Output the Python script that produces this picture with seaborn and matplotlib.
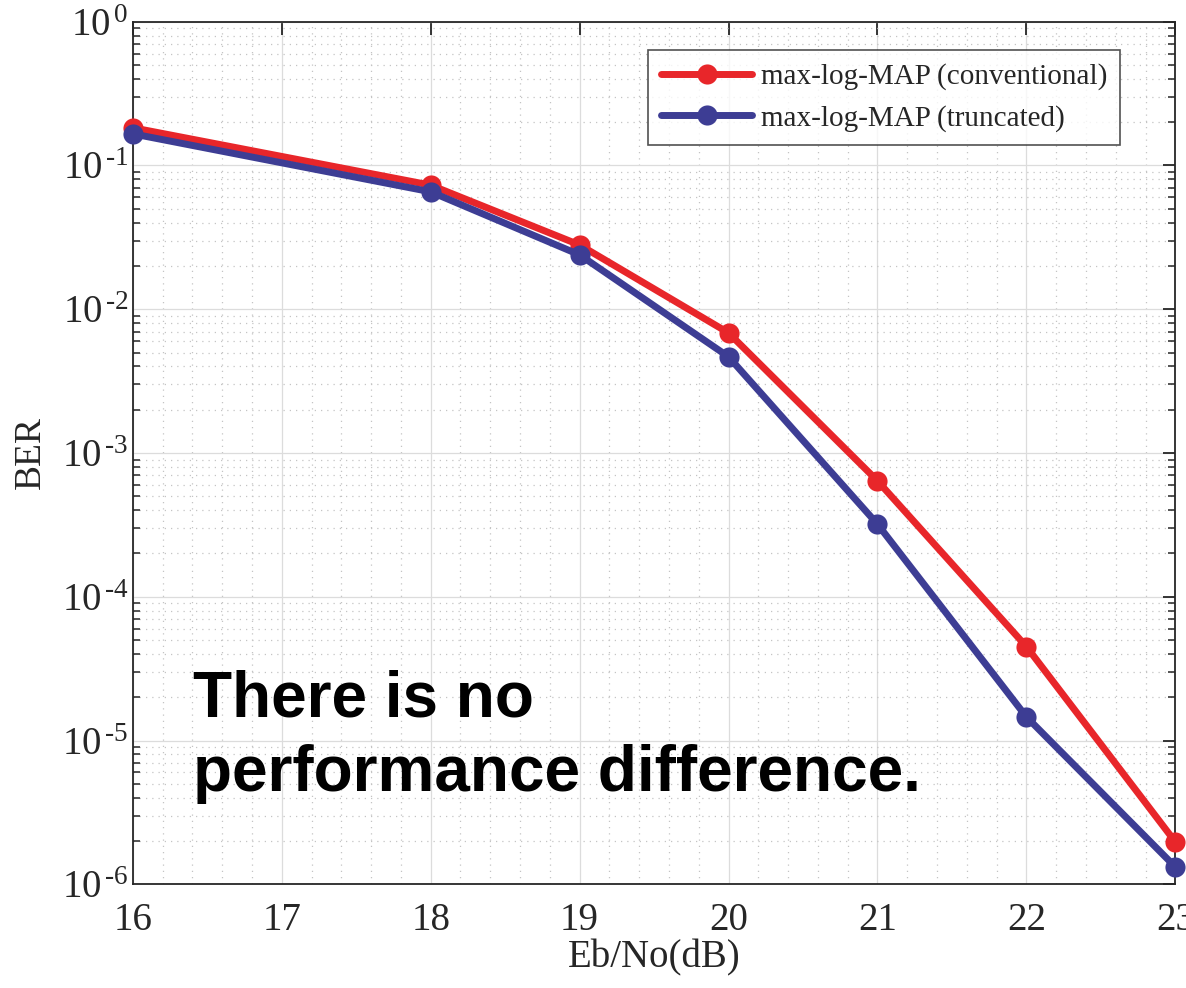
import numpy as np
import pandas as pd
import seaborn as sns
import matplotlib
matplotlib.use("Agg")
import matplotlib.pyplot as plt
from matplotlib.ticker import LogLocator, MultipleLocator, FixedLocator, NullFormatter
from matplotlib.lines import Line2D

ebno = [16, 18, 19, 20, 21, 22, 23]
ber_conventional = [0.183, 0.073, 0.028, 0.00685, 6.4e-4, 4.5e-5, 1.97e-6]
ber_truncated = [0.166, 0.0656, 0.0239, 0.00467, 3.2e-4, 1.46e-5, 1.32e-6]
series_names = ["max-log-MAP (conventional)", "max-log-MAP (truncated)"]
series_colors = ["#E8262A", "#3D3D94"]
x_ticks = [16, 17, 18, 19, 20, 21, 22, 23]
y_exps = [0, -1, -2, -3, -4, -5, -6]
annotation = "There is no\nperformance difference."

df = pd.DataFrame({
    "Eb/No": ebno * 2,
    "BER": ber_conventional + ber_truncated,
    "scheme": [series_names[0]] * len(ebno) + [series_names[1]] * len(ebno),
})

sns.set_theme(style="white")
plt.rcParams["font.family"] = ["Liberation Serif", "DejaVu Serif"]
plt.rcParams["mathtext.fontset"] = "custom"
plt.rcParams["mathtext.rm"] = "Liberation Serif"
plt.rcParams["mathtext.it"] = "Liberation Serif"

fig = plt.figure(figsize=(11.86, 9.88), dpi=100)
ax = fig.add_axes([0.112, 0.105, 0.879, 0.873])

palette = dict(zip(series_names, series_colors))
sns.lineplot(data=df, x="Eb/No", y="BER", hue="scheme", palette=palette,
             marker="o", markersize=14.5, linewidth=5, markeredgewidth=0,
             ax=ax, legend=False, zorder=3, clip_on=False)

ax.set_yscale("log")
ax.set_xlim(16, 23)
ax.set_ylim(1e-6, 1)

ax.xaxis.set_major_locator(FixedLocator(x_ticks))
ax.xaxis.set_minor_locator(MultipleLocator(0.2))
ax.yaxis.set_major_locator(FixedLocator([10.0 ** e for e in y_exps]))
ax.set_yticklabels([r"$10^{\,\text{%d}}$" % e for e in y_exps])
ax.set_xticklabels([str(t) for t in x_ticks])
ax.yaxis.set_minor_locator(LogLocator(base=10, subs=np.arange(2, 10), numticks=20))
ax.yaxis.set_minor_formatter(NullFormatter())

ax.grid(which="major", color="#dcdcdc", linewidth=0.9, linestyle="-")
ax.grid(which="minor", color="#c4c4c4", linewidth=0.9, linestyle=(0, (1, 4)))

ax.tick_params(axis="x", which="major", direction="in", length=9, width=1.3,
               top=True, labelsize=28, colors="#262626", pad=13)
ax.tick_params(axis="y", which="major", direction="in", length=9, width=1.3,
               right=True, labelsize=28, colors="#262626", pad=3)
ax.tick_params(axis="y", which="minor", direction="in", length=5, width=1.1,
               left=True, right=True, colors="#262626")
ax.tick_params(axis="x", which="minor", length=0)

for s in ax.spines.values():
    s.set_color("#262626")
    s.set_linewidth(1.3)
    s.set_visible(True)

ax.set_xlabel("Eb/No(dB)", fontsize=28, color="#262626", labelpad=0)
ax.set_ylabel("BER", fontsize=27, color="#262626", labelpad=10)

handles = [Line2D([0], [0], color=c, linewidth=5, marker="o", markersize=14.5,
                  markeredgewidth=0) for c in series_colors]
leg = ax.legend(handles, series_names, loc="upper right", bbox_to_anchor=(0.947, 0.967),
                fontsize=21, frameon=True, fancybox=False, edgecolor="#262626",
                handlelength=3.1, borderpad=0.45, labelspacing=0.5, handletextpad=0.3,
                borderaxespad=0)
leg.get_frame().set_linewidth(1.2)
leg.set_zorder(5)

fig.text(0.163, 0.322, annotation, fontsize=46, fontweight="bold",
         family=["Liberation Sans", "DejaVu Sans"], color="black",
         ha="left", va="top", linespacing=1.3)

fig.savefig("out.png", dpi=100, facecolor="white")
